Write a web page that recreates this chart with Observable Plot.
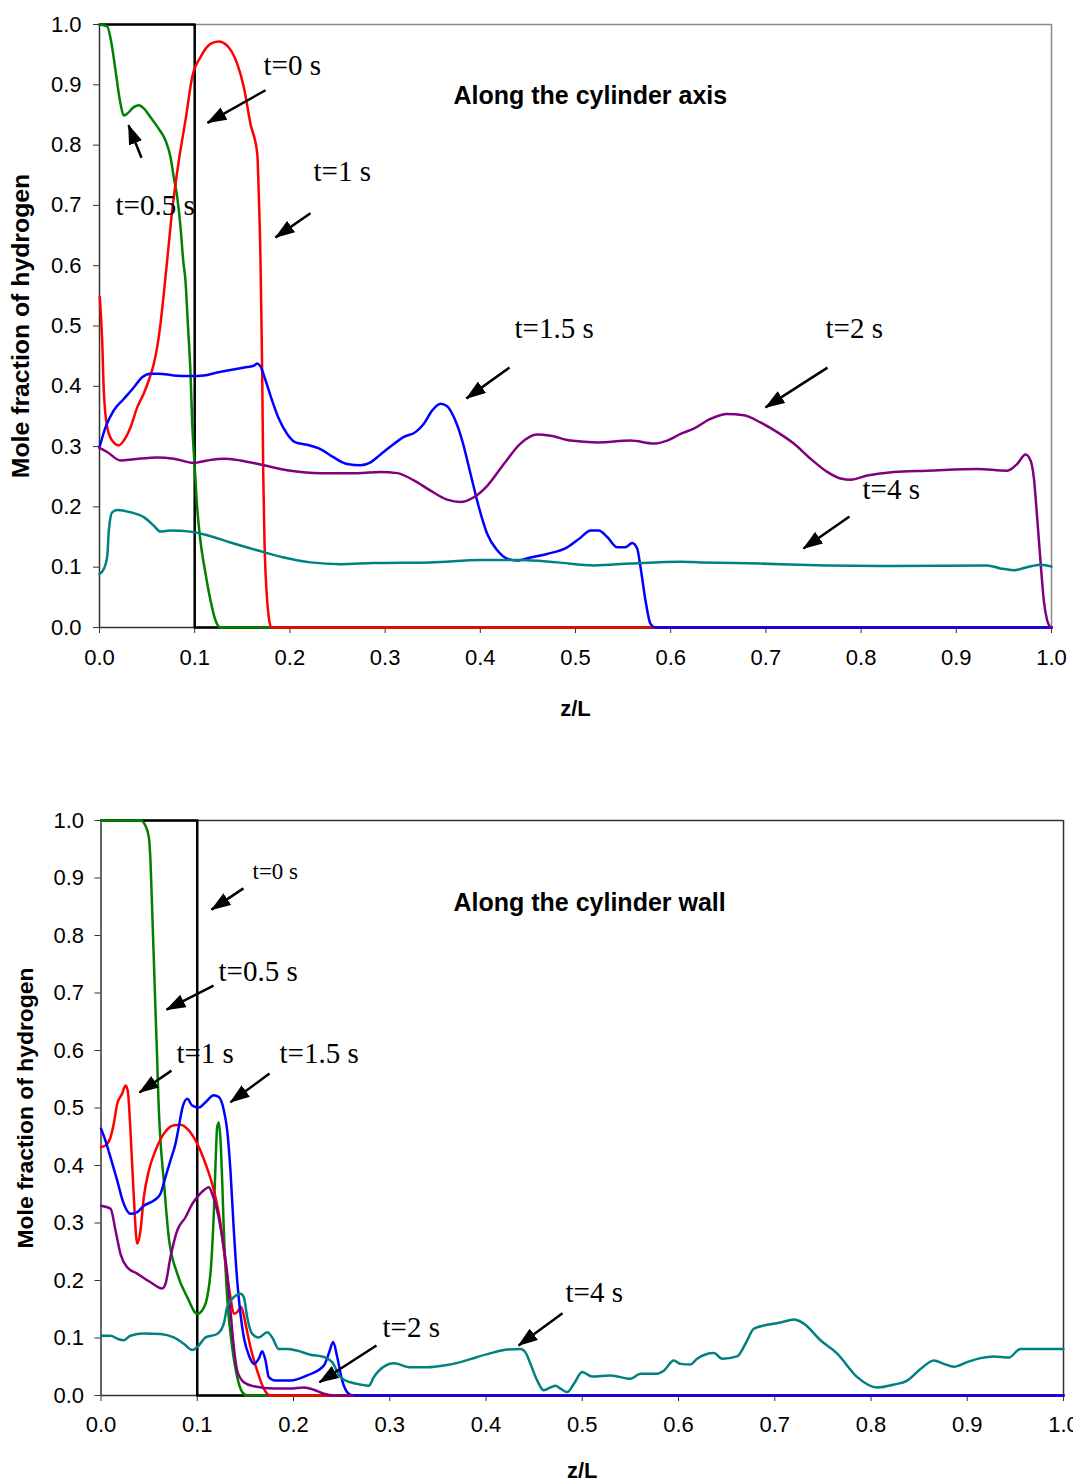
<!DOCTYPE html>
<html>
<head>
<meta charset="utf-8">
<script src="https://cdn.jsdelivr.net/npm/d3@7"></script>
<script src="https://cdn.jsdelivr.net/npm/@observablehq/plot@0.6"></script>
<style>
  html, body { margin: 0; padding: 0; background: #fff; overflow: hidden; }
  #charts svg { display: block; }
</style>
</head>
<body>
<div id="charts"></div>
<script>
// Tick values shared by both panels
const zTicks = [0, 0.1, 0.2, 0.3, 0.4, 0.5, 0.6, 0.7, 0.8, 0.9, 1.0];
const fracTicks = [0, 0.1, 0.2, 0.3, 0.4, 0.5, 0.6, 0.7, 0.8, 0.9, 1.0];

// Time steps and line colours
const times = ["t=0 s", "t=0.5 s", "t=1 s", "t=1.5 s", "t=2 s", "t=4 s"];
const colors = ["#000000", "#008000", "#ff0000", "#0000ff", "#800080", "#008080"];

// ---------- Along the cylinder axis: [z/L, mole fraction] ----------
const axisT0 = [[0, 1], [0.1, 1], [0.1, 0], [1, 0]];
const axisT05 = [[0, 1], [0.008, 0.997], [0.0133, 0.962], [0.0168, 0.924], [0.022, 0.869], [0.0255, 0.849],
  [0.029, 0.852], [0.036, 0.863], [0.0413, 0.866], [0.0465, 0.861], [0.0536, 0.846], [0.0623, 0.827],
  [0.0693, 0.808], [0.0746, 0.78], [0.078, 0.747], [0.0816, 0.714], [0.0851, 0.664], [0.0879, 0.609],
  [0.0903, 0.575], [0.0928, 0.504], [0.0956, 0.421], [0.0974, 0.338], [0.0998, 0.272], [0.1026, 0.199],
  [0.106, 0.144], [0.1113, 0.09], [0.1166, 0.045], [0.1218, 0.012], [0.127, 0], [1, 0]];
const axisT1 = [[0.0003, 0.548], [0.0028, 0.476], [0.0045, 0.393], [0.0081, 0.332], [0.0133, 0.31],
  [0.0203, 0.302], [0.0255, 0.31], [0.0326, 0.332], [0.0396, 0.365], [0.0465, 0.388], [0.0518, 0.41],
  [0.057, 0.437], [0.0606, 0.465], [0.0641, 0.504], [0.0675, 0.553], [0.0711, 0.609], [0.0764, 0.692],
  [0.0833, 0.774], [0.0903, 0.841], [0.0974, 0.913], [0.1061, 0.946], [0.1166, 0.968], [0.1253, 0.972],
  [0.1341, 0.965], [0.1446, 0.935], [0.1516, 0.896], [0.1586, 0.835], [0.1657, 0.786], [0.1673, 0.719],
  [0.1691, 0.609], [0.1699, 0.531], [0.1709, 0.421], [0.172, 0.255], [0.1733, 0.144], [0.1754, 0.061],
  [0.1778, 0.017], [0.1804, 0], [1, 0]];
const axisT15 = [[0, 0.299], [0.0063, 0.332], [0.015, 0.36], [0.0255, 0.379], [0.036, 0.398], [0.0448, 0.415],
  [0.0536, 0.421], [0.0623, 0.421], [0.078, 0.418], [0.0956, 0.417], [0.1096, 0.418], [0.1236, 0.423],
  [0.1376, 0.427], [0.1551, 0.432], [0.1621, 0.434], [0.1656, 0.438], [0.1691, 0.433], [0.1744, 0.41],
  [0.1814, 0.376], [0.1884, 0.346], [0.1971, 0.321], [0.2059, 0.307], [0.2182, 0.303], [0.2321, 0.296],
  [0.2461, 0.282], [0.2602, 0.271], [0.2742, 0.269], [0.2847, 0.274], [0.2952, 0.287], [0.3057, 0.3],
  [0.3197, 0.316], [0.3319, 0.324], [0.3407, 0.338], [0.3495, 0.36], [0.3582, 0.371], [0.3652, 0.367],
  [0.3722, 0.349], [0.381, 0.31], [0.3897, 0.255], [0.3984, 0.2], [0.4073, 0.155], [0.4178, 0.128],
  [0.4283, 0.114], [0.4388, 0.111], [0.4527, 0.116], [0.4703, 0.122], [0.4913, 0.133], [0.5053, 0.149],
  [0.5158, 0.161], [0.5245, 0.161], [0.5333, 0.15], [0.5438, 0.133], [0.5525, 0.133], [0.5595, 0.14],
  [0.5648, 0.131], [0.5683, 0.1], [0.5735, 0.045], [0.5788, 0.006], [0.584, 0], [1, 0]];
const axisT2 = [[0, 0.298], [0.0081, 0.291], [0.022, 0.277], [0.036, 0.279], [0.0606, 0.282], [0.078, 0.28],
  [0.0991, 0.273], [0.1131, 0.277], [0.1306, 0.28], [0.1481, 0.277], [0.1726, 0.269], [0.2006, 0.26],
  [0.2321, 0.256], [0.2707, 0.256], [0.2952, 0.258], [0.3127, 0.256], [0.3302, 0.244], [0.3477, 0.227],
  [0.3652, 0.212], [0.3792, 0.208], [0.3932, 0.216], [0.4073, 0.235], [0.4247, 0.271], [0.4422, 0.305],
  [0.4598, 0.32], [0.4737, 0.318], [0.4947, 0.31], [0.5228, 0.307], [0.5578, 0.31], [0.5823, 0.305],
  [0.5963, 0.31], [0.6103, 0.321], [0.6243, 0.33], [0.6418, 0.346], [0.6593, 0.354], [0.6768, 0.352],
  [0.6943, 0.34], [0.7119, 0.324], [0.7293, 0.305], [0.7468, 0.28], [0.7644, 0.258], [0.7784, 0.247],
  [0.7889, 0.245], [0.8064, 0.252], [0.8344, 0.258], [0.8694, 0.26], [0.9219, 0.263], [0.9535, 0.26],
  [0.9639, 0.271], [0.9727, 0.287], [0.978, 0.277], [0.9814, 0.249], [0.9849, 0.183], [0.9884, 0.111],
  [0.9919, 0.045], [0.9954, 0.012], [0.999, 0]];
const axisT4 = [[0, 0.089], [0.0045, 0.097], [0.0081, 0.117], [0.0098, 0.161], [0.0133, 0.191], [0.0186, 0.195],
  [0.0326, 0.191], [0.0465, 0.183], [0.057, 0.169], [0.0641, 0.159], [0.0746, 0.161], [0.0956, 0.159],
  [0.1131, 0.153], [0.1376, 0.141], [0.1657, 0.128], [0.1936, 0.116], [0.2216, 0.108], [0.2532, 0.105],
  [0.2881, 0.107], [0.3477, 0.108], [0.4002, 0.112], [0.4422, 0.112], [0.4807, 0.108], [0.5193, 0.103],
  [0.5578, 0.106], [0.6103, 0.109], [0.6313, 0.108], [0.6943, 0.106], [0.7644, 0.103], [0.8344, 0.102],
  [0.9324, 0.103], [0.9464, 0.098], [0.9604, 0.095], [0.9744, 0.1], [0.9884, 0.104], [1, 0.101]];

// ---------- Along the cylinder wall: [z/L, mole fraction] ----------
const wallT0 = [[0, 1], [0.1, 1], [0.1, 0], [1, 0]];
const wallT05 = [[0, 1], [0.041, 1], [0.0462, 0.991], [0.0497, 0.971], [0.0514, 0.93], [0.0532, 0.843],
  [0.0549, 0.757], [0.0566, 0.67], [0.0584, 0.583], [0.0597, 0.513], [0.0618, 0.443], [0.0652, 0.374],
  [0.0704, 0.275], [0.0792, 0.212], [0.0896, 0.171], [0.0999, 0.142], [0.1051, 0.148], [0.1103, 0.171],
  [0.1145, 0.229], [0.1172, 0.316], [0.119, 0.403], [0.1207, 0.467], [0.1224, 0.475], [0.1242, 0.443],
  [0.1259, 0.374], [0.1276, 0.287], [0.1311, 0.171], [0.1363, 0.084], [0.1415, 0.032], [0.1467, 0.006],
  [0.1519, 0], [1, 0]];
const wallT1 = [[0, 0.432], [0.0047, 0.435], [0.0099, 0.449], [0.0133, 0.473], [0.0168, 0.507], [0.022, 0.525],
  [0.0255, 0.539], [0.0278, 0.53], [0.0306, 0.461], [0.0341, 0.345], [0.0376, 0.264], [0.041, 0.287],
  [0.0445, 0.345], [0.0497, 0.391], [0.0566, 0.426], [0.0652, 0.455], [0.0756, 0.47], [0.0826, 0.471],
  [0.0912, 0.461], [0.0999, 0.438], [0.1086, 0.403], [0.1172, 0.357], [0.1242, 0.299], [0.1294, 0.229],
  [0.1345, 0.171], [0.138, 0.142], [0.1415, 0.145], [0.1457, 0.154], [0.1501, 0.125], [0.1553, 0.084],
  [0.1623, 0.043], [0.1691, 0.012], [0.1761, 0], [1, 0]];
const wallT15 = [[0, 0.464], [0.0047, 0.443], [0.0099, 0.414], [0.0168, 0.374], [0.0237, 0.333], [0.0306, 0.316],
  [0.0376, 0.319], [0.0445, 0.33], [0.0549, 0.339], [0.0618, 0.351], [0.067, 0.38], [0.0722, 0.409],
  [0.0774, 0.438], [0.0808, 0.467], [0.0844, 0.499], [0.0896, 0.516], [0.0948, 0.504], [0.1016, 0.501],
  [0.1086, 0.51], [0.1172, 0.522], [0.1224, 0.519], [0.1276, 0.496], [0.1311, 0.461], [0.1345, 0.391],
  [0.138, 0.287], [0.1415, 0.2], [0.1449, 0.142], [0.1484, 0.101], [0.1536, 0.07], [0.1588, 0.055],
  [0.1639, 0.064], [0.1675, 0.077], [0.1709, 0.061], [0.1743, 0.032], [0.1813, 0.026], [0.1969, 0.026],
  [0.2142, 0.035], [0.2315, 0.052], [0.2367, 0.073], [0.2412, 0.093], [0.2454, 0.067], [0.2506, 0.026],
  [0.2575, 0.003], [0.2627, 0], [1, 0]];
const wallT2 = [[0, 0.33], [0.0099, 0.325], [0.0151, 0.287], [0.0203, 0.246], [0.0272, 0.223], [0.0376, 0.212],
  [0.0514, 0.197], [0.0636, 0.186], [0.067, 0.194], [0.0722, 0.241], [0.0792, 0.287], [0.0878, 0.31],
  [0.0948, 0.333], [0.0999, 0.345], [0.1068, 0.357], [0.112, 0.362], [0.1155, 0.351], [0.1207, 0.322],
  [0.1259, 0.275], [0.1311, 0.212], [0.1345, 0.148], [0.138, 0.084], [0.1415, 0.043], [0.1484, 0.023],
  [0.1588, 0.016], [0.1795, 0.012], [0.1969, 0.012], [0.2107, 0.014], [0.2211, 0.01], [0.2315, 0.003],
  [0.2419, 0], [0.262, 0]];
const wallT4 = [[0, 0.104], [0.0099, 0.104], [0.0168, 0.099], [0.0237, 0.096], [0.0306, 0.104], [0.0445, 0.108],
  [0.0618, 0.107], [0.0756, 0.101], [0.086, 0.09], [0.0948, 0.079], [0.1016, 0.087], [0.1086, 0.101],
  [0.1207, 0.107], [0.1276, 0.125], [0.1311, 0.154], [0.138, 0.171], [0.1449, 0.177], [0.1484, 0.171],
  [0.1519, 0.136], [0.1571, 0.107], [0.1639, 0.101], [0.1727, 0.11], [0.1779, 0.101], [0.1847, 0.081],
  [0.1935, 0.081], [0.2038, 0.078], [0.2177, 0.071], [0.2315, 0.067], [0.2402, 0.058], [0.2488, 0.032],
  [0.2592, 0.023], [0.2696, 0.019], [0.2782, 0.017], [0.2834, 0.032], [0.2956, 0.052], [0.3042, 0.056],
  [0.3216, 0.049], [0.3389, 0.049], [0.3562, 0.052], [0.3735, 0.058], [0.3909, 0.067], [0.4081, 0.075],
  [0.422, 0.08], [0.4358, 0.081], [0.441, 0.075], [0.4462, 0.055], [0.4532, 0.026], [0.46, 0.009],
  [0.467, 0.014], [0.4722, 0.017], [0.4774, 0.012], [0.4844, 0.006], [0.4912, 0.02], [0.4999, 0.041],
  [0.5103, 0.033], [0.5294, 0.035], [0.5501, 0.029], [0.5605, 0.038], [0.5779, 0.038], [0.5847, 0.043],
  [0.5951, 0.061], [0.6021, 0.055], [0.6125, 0.054], [0.6194, 0.064], [0.6367, 0.074], [0.6454, 0.064],
  [0.6609, 0.068], [0.6696, 0.09], [0.6782, 0.116], [0.6922, 0.123], [0.706, 0.127], [0.7198, 0.132],
  [0.7302, 0.125], [0.7475, 0.096], [0.7649, 0.073], [0.7857, 0.032], [0.8064, 0.014], [0.8237, 0.019],
  [0.8376, 0.026], [0.8514, 0.046], [0.8653, 0.061], [0.8757, 0.055], [0.886, 0.05], [0.8999, 0.058],
  [0.9138, 0.065], [0.9276, 0.068], [0.9432, 0.066], [0.9553, 0.081], [0.9691, 0.081], [1, 0.081]];

// Callout labels: [label, z/L, fraction] (text starts at this point)
const axisLabels = [["t=0 s", 0.1723, 0.932], ["t=0.5 s", 0.0168, 0.700], ["t=1 s", 0.2248, 0.756],
  ["t=1.5 s", 0.4359, 0.496], ["t=2 s", 0.7626, 0.496], ["t=4 s", 0.8015, 0.229]];
const wallLabels = [["t=0 s", 0.1574, 0.911], ["t=0.5 s", 0.1221, 0.737], ["t=1 s", 0.0784, 0.595],
  ["t=1.5 s", 0.1855, 0.595], ["t=2 s", 0.2925, 0.118], ["t=4 s", 0.4826, 0.179]];
// Callout arrows: [z1, f1, z2, f2], pointing from 1 to 2
const axisArrows = [[0.1744, 0.891, 0.1134, 0.837], [0.0441, 0.779, 0.0305, 0.833], [0.2216, 0.687, 0.1849, 0.647],
  [0.4307, 0.431, 0.3855, 0.380], [0.7647, 0.431, 0.6996, 0.365], [0.7878, 0.184, 0.7395, 0.131]];
const wallArrows = [[0.148, 0.882, 0.1148, 0.845], [0.1169, 0.713, 0.068, 0.671], [0.0732, 0.565, 0.040, 0.527],
  [0.1751, 0.560, 0.1345, 0.510], [0.2862, 0.087, 0.227, 0.023], [0.4795, 0.143, 0.4338, 0.087]];

const sans = "'Liberation Sans', Arial, Helvetica, sans-serif";
const serif = "'Liberation Serif', 'Times New Roman', Times, serif";
const fmt = d3.format(".1f");

function lineMarks(series) {
  return series.map((pts, i) => Plot.line(pts, {
    x: d => d[0], y: d => d[1],
    stroke: colors[i], strokeWidth: 2.5,
    curve: i === 0 ? "linear" : "monotone-x"
  }));
}

function panel(opts) {
  const {series, labels, arrows, title, titlePos, width, ml, mr, mt, mb, height,
         frameColor, labelSize, smallFirst, ylabelDx, xlabelDy, ylabelSize, xTickPad, yTickPad} = opts;
  return Plot.plot({
    width, height,
    marginLeft: ml, marginRight: mr, marginTop: mt, marginBottom: mb,
    style: {fontFamily: sans, fontSize: "22px", color: "#000", background: "#fff", maxWidth: "none", overflow: "visible"},
    x: {domain: [0, 1]},
    y: {domain: [0, 1]},
    marks: [
      // plot frame: left and bottom dark, top and right in frameColor
      Plot.ruleY([1], {stroke: frameColor, strokeWidth: 1.5}),
      Plot.ruleX([1], {stroke: frameColor, strokeWidth: 1.5}),
      Plot.ruleX([0], {stroke: "#333", strokeWidth: 1.5}),
      Plot.ruleY([0], {stroke: "#333", strokeWidth: 1.5}),
      Plot.axisX({ticks: zTicks, tickFormat: fmt, tickSize: 6, tickPadding: xTickPad, label: null, stroke: "#333", fontSize: 22}),
      Plot.axisY({ticks: fracTicks, tickFormat: fmt, tickSize: 6, tickPadding: yTickPad, label: null, stroke: "#333", fontSize: 22}),
      ...lineMarks(series),
      Plot.link(arrows, {
        x1: d => d[0], y1: d => d[1], x2: d => d[2], y2: d => d[3],
        stroke: "#000", strokeWidth: 2.5
      }),
      Plot.text(labels, {
        x: d => d[1], y: d => d[2], text: d => d[0],
        textAnchor: "start", lineAnchor: "middle",
        fontFamily: serif, fill: "#000",
        fontSize: (d, i) => (smallFirst && i === 0 ? 23 : labelSize)
      }),
      Plot.text([title], {
        x: titlePos[0], y: titlePos[1], text: d => d,
        textAnchor: "start", lineAnchor: "middle",
        fontWeight: "bold", fontSize: 25, fontFamily: sans, fill: "#000"
      }),
      Plot.text(["Mole fraction of hydrogen"], {
        frameAnchor: "left", dx: ylabelDx, rotate: -90, text: d => d,
        textAnchor: "middle", lineAnchor: "middle",
        fontWeight: "bold", fontSize: ylabelSize, fontFamily: sans, fill: "#000"
      }),
      Plot.text(["z/L"], {
        frameAnchor: "bottom", dy: xlabelDy, text: d => d,
        textAnchor: "middle", lineAnchor: "middle",
        fontWeight: "bold", fontSize: 22, fontFamily: sans, fill: "#000"
      })
    ]
  });
}

// Filled arrowheads on the callout links
function addArrowheads(svg, id) {
  const s = d3.select(svg);
  s.append("defs").append("marker")
    .attr("id", id)
    .attr("viewBox", "0 0 20 14")
    .attr("refX", 19).attr("refY", 7)
    .attr("markerWidth", 20).attr("markerHeight", 14)
    .attr("markerUnits", "userSpaceOnUse")
    .attr("orient", "auto")
    .append("path").attr("d", "M0,0L20,7L0,14Z").attr("fill", "#000");
  s.selectAll('g[aria-label="link"] path').attr("marker-end", `url(#${id})`);
  return svg;
}

const axisChart = panel({
  series: [axisT0, axisT05, axisT1, axisT15, axisT2, axisT4],
  labels: axisLabels, arrows: axisArrows,
  title: "Along the cylinder axis", titlePos: [0.3718, 0.882],
  width: 1073, height: 796, ml: 99, mr: 22, mt: 24, mb: 169,
  frameColor: "#8a8a8a", labelSize: 29, smallFirst: false,
  ylabelDx: -78, xlabelDy: 81, ylabelSize: 24.8, xTickPad: 16, yTickPad: 12
});
const wallChart = panel({
  series: [wallT0, wallT05, wallT1, wallT15, wallT2, wallT4],
  labels: wallLabels, arrows: wallArrows,
  title: "Along the cylinder wall", titlePos: [0.3662, 0.856],
  width: 1103, height: 687, ml: 100.5, mr: 40, mt: 24, mb: 88,
  frameColor: "#333", labelSize: 29, smallFirst: true,
  ylabelDx: -75, xlabelDy: 75, ylabelSize: 22.9, xTickPad: 15, yTickPad: 11
});

const holder = document.getElementById("charts");
holder.append(addArrowheads(axisChart, "head-axis"));
holder.append(addArrowheads(wallChart, "head-wall"));
</script>
</body>
</html>
